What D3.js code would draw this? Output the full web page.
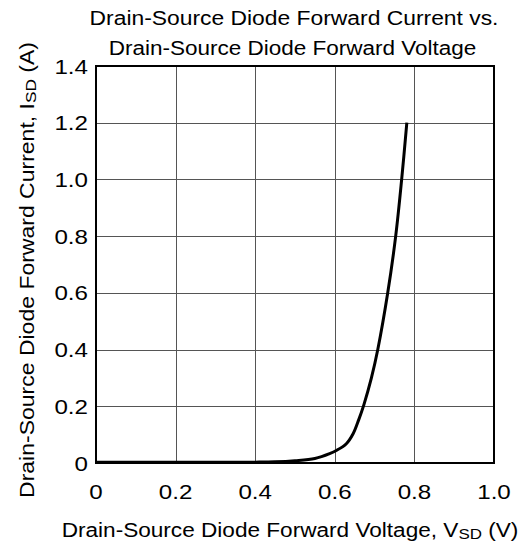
<!DOCTYPE html>
<meta charset="utf-8">
<style>
body { margin: 0; background: #fff; }
text { font-family: "Liberation Sans", Arial, sans-serif; fill: #000; }
.grid line { stroke: #555; stroke-width: 1px; shape-rendering: crispEdges; }
.curve { fill: none; stroke: #000; stroke-width: 3px; stroke-linejoin: round; stroke-linecap: butt; }
</style>
<svg width="528" height="544"></svg>
<script src="https://d3js.org/d3.v7.min.js"></script>
<script>

var voltage = [0, 0.1, 0.2, 0.3, 0.4, 0.45, 0.5, 0.55, 0.587, 0.605, 0.629, 0.646, 0.66, 0.673, 0.692, 0.708, 0.733, 0.753, 0.768, 0.781];
var current = [0.003, 0.003, 0.003, 0.003, 0.003, 0.004, 0.008, 0.016, 0.033, 0.045, 0.068, 0.103, 0.152, 0.205, 0.30, 0.40, 0.60, 0.80, 1.0, 1.2];

var xTicks = [0, 0.2, 0.4, 0.6, 0.8, 1.0];
var yTicks = [0, 0.2, 0.4, 0.6, 0.8, 1.0, 1.2, 1.4];
var xTickLabels = ["0", "0.2", "0.4", "0.6", "0.8", "1.0"];
var yTickLabels = ["0", "0.2", "0.4", "0.6", "0.8", "1.0", "1.2", "1.4"];

var svg = d3.select("svg"),
    margin = {top: 66, right: 34, bottom: 81, left: 96},
    width = +svg.attr("width") - margin.left - margin.right,
    height = +svg.attr("height") - margin.top - margin.bottom,
    g = svg.append("g").attr("transform", "translate(" + margin.left + "," + margin.top + ")");

var x = d3.scaleLinear().domain([0, 1]).range([0, width]);
var y = d3.scaleLinear().domain([0, 1.4]).range([height, 0]);

// horizontal stretch, the source font is wider than Liberation Sans
var sx = 1.15;

// grid
var grid = g.append("g").attr("class", "grid");
grid.selectAll(".vx").data(xTicks.slice(1, -1)).enter().append("line")
    .attr("x1", function(d) { return Math.round(x(d)) + 0.5; })
    .attr("x2", function(d) { return Math.round(x(d)) + 0.5; })
    .attr("y1", 0).attr("y2", height);
grid.selectAll(".hy").data(yTicks.slice(1, -1)).enter().append("line")
    .attr("y1", function(d) { return Math.round(y(d)) + 0.5; })
    .attr("y2", function(d) { return Math.round(y(d)) + 0.5; })
    .attr("x1", 0).attr("x2", width);

// frame
g.append("rect")
    .attr("width", width).attr("height", height)
    .attr("fill", "none").attr("stroke", "#000").attr("stroke-width", 2);

// tick labels
g.selectAll(".xl").data(xTicks).enter().append("text")
    .attr("transform", function(d) { return "translate(" + x(d) + "," + (height + 36) + ") scale(" + sx + ",1)"; })
    .attr("text-anchor", "middle")
    .style("font-size", "21px")
    .text(function(d, i) { return xTickLabels[i]; });

g.selectAll(".yl").data(yTicks).enter().append("text")
    .attr("transform", function(d) { return "translate(-8," + (y(d) + 7.5) + ") scale(" + sx + ",1)"; })
    .attr("text-anchor", "end")
    .style("font-size", "21px")
    .text(function(d, i) { return yTickLabels[i]; });

// curve
var line = d3.line()
    .x(function(d) { return x(d[0]); })
    .y(function(d) { return y(d[1]); })
    .curve(d3.curveCatmullRom.alpha(0.5));

g.append("path")
    .datum(d3.zip(voltage, current))
    .attr("class", "curve")
    .attr("d", line);

// fit a text to a target width by stretching it horizontally
function fit(t, tx, ty, target, rot) {
    var w = t.node().getBBox().width;
    t.attr("transform", "translate(" + tx + "," + ty + ")" + (rot ? " rotate(" + rot + ")" : "") +
        " scale(" + (target / w) + ",1)");
}

// title
var t1 = svg.append("text").attr("text-anchor", "middle").style("font-size", "20px")
    .text("Drain-Source Diode Forward Current vs.");
fit(t1, 294, 24.5, 409);
var t2 = svg.append("text").attr("text-anchor", "middle").style("font-size", "20px")
    .text("Drain-Source Diode Forward Voltage");
fit(t2, 292.5, 55, 368);

// x axis label
var xl = svg.append("text").attr("text-anchor", "middle").style("font-size", "20px");
xl.append("tspan").text("Drain-Source Diode Forward Voltage, V");
xl.append("tspan").attr("dy", 2).style("font-size", "15px").text("SD");
xl.append("tspan").attr("dy", -2).text(" (V)");
fit(xl, 290, 536.5, 457);

// y axis label
var yl = svg.append("text").attr("text-anchor", "middle").style("font-size", "20px");
yl.append("tspan").text("Drain-Source Diode Forward Current, I");
yl.append("tspan").attr("dy", 2).style("font-size", "15px").text("SD");
yl.append("tspan").attr("dy", -2).text(" (A)");
fit(yl, 33.5, 270, 456, -90);

</script>
